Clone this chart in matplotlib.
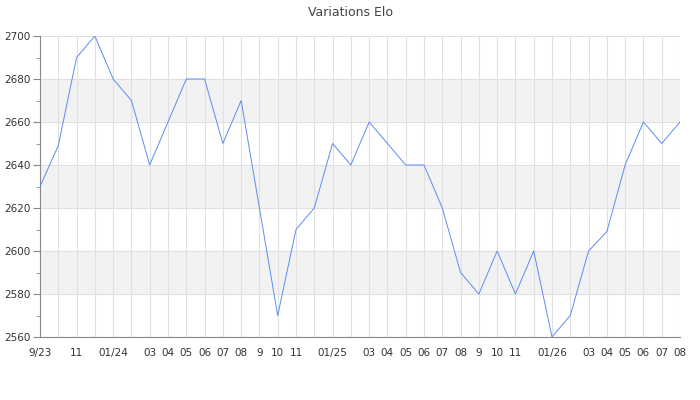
import matplotlib
matplotlib.use("Agg")
import matplotlib.pyplot as plt
from matplotlib.ticker import MultipleLocator

months = ["9/23", "", "11", "", "01/24", "", "03", "04", "05", "06", "07", "08",
          "9", "10", "11", "", "01/25", "", "03", "04", "05", "06", "07", "08",
          "9", "10", "11", "", "01/26", "", "03", "04", "05", "06", "07", "08"]
elo = [2630, 2649, 2690, 2700, 2680, 2670, 2640, 2660, 2680, 2680, 2650, 2670,
       2620, 2570, 2610, 2620, 2650, 2640, 2660, 2650, 2640, 2640, 2620, 2590,
       2580, 2600, 2580, 2600, 2560, 2570, 2600, 2609, 2640, 2660, 2650, 2660]
y_ticks = [2560, 2580, 2600, 2620, 2640, 2660, 2680, 2700]
title = "Variations Elo"

fig = plt.figure(figsize=(7, 4), dpi=100)
ax = fig.add_axes([40/700, 1-337/400, 640/700, 301/400])

x = list(range(len(elo)))
# alternating bands
for i in range(len(y_ticks)-1):
    if i % 2 == 1:
        ax.axhspan(y_ticks[i], y_ticks[i+1], color="#f2f2f2", zorder=0, lw=0)

ax.plot(x, elo, color="#5b8def", lw=0.7, zorder=3)
ax.set_xlim(0, len(elo)-1)
ax.set_ylim(y_ticks[0], y_ticks[-1])
ax.set_xticks(x)
ax.set_xticklabels(months)
ax.set_yticks(y_ticks)
ax.yaxis.set_minor_locator(MultipleLocator(10))
ax.grid(True, which="major", color="#e0e0e0", lw=0.8, zorder=1)
ax.set_axisbelow(True)
for s in ["top", "right"]:
    ax.spines[s].set_visible(False)
ax.spines["left"].set_color("#888888")
ax.spines["bottom"].set_color("#888888")
ax.tick_params(axis="x", length=0, pad=8, labelsize=7.5, labelcolor="#333333")
ax.tick_params(axis="y", which="major", length=5, color="#888888", labelsize=7.5, labelcolor="#333333", pad=2)
ax.tick_params(axis="y", which="minor", length=3, color="#888888")
fig.text(0.5, 1-12/400, title, ha="center", va="center", fontsize=9, color="#444444")
fig.savefig("out.png", dpi=100)
